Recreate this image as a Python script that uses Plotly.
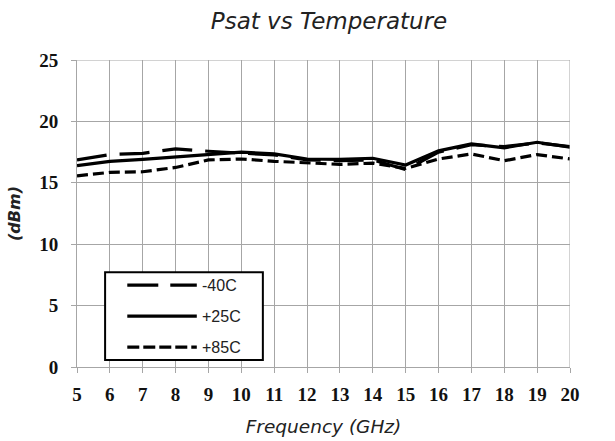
import plotly.graph_objects as go

freq = [5, 6, 7, 8, 9, 10, 11, 12, 13, 14, 15, 16, 17, 18, 19, 20]
m40 = [16.86, 17.3, 17.4, 17.76, 17.57, 17.4, 17.27, 16.86, 16.8, 16.86, 16.07, 17.5, 18.1, 17.95, 18.25, 17.95]
p25 = [16.4, 16.75, 16.9, 17.08, 17.27, 17.5, 17.35, 16.94, 16.9, 17.0, 16.45, 17.6, 18.17, 17.85, 18.3, 17.9]
p85 = [15.57, 15.85, 15.9, 16.25, 16.86, 16.94, 16.75, 16.6, 16.5, 16.6, 16.17, 16.94, 17.35, 16.8, 17.3, 16.94]
names = ["-40C", "+25C", "+85C"]
dashes = ["30px,13px", "solid", "11px,5px"]
legend_dashes = ["31px,12px", "solid", "12px,4px"]
series = [m40, p25, p85]

fig = go.Figure()
for n, d, s in zip(names, dashes, series):
    fig.add_trace(go.Scatter(x=freq, y=s, name=n, mode="lines", showlegend=False,
                             line=dict(color="black", width=3.2, dash=d)))

sans = "DejaVu Sans, Lato, sans-serif"
grid = "#a6a6a6"
fig.update_layout(
    width=615, height=441,
    margin=dict(l=77, r=45, t=60, b=74),
    paper_bgcolor="white", plot_bgcolor="white",
    showlegend=False,
    title=dict(text="Psat vs Temperature", x=0.535, xanchor="center", y=0.953, yanchor="middle",
               font=dict(family=sans, size=23, color="#222222", style="italic")),
    xaxis=dict(range=[5, 20], dtick=1, tick0=5, showgrid=True, gridcolor=grid, gridwidth=1,
               showline=True, linecolor=grid, linewidth=1, automargin=False,
               ticks="outside", ticklen=5, tickcolor=grid, ticklabelstandoff=5,
               tickfont=dict(family="Liberation Serif, serif", size=19, color="#111111", weight="bold"),
               title=dict(text="Frequency (GHz)", standoff=16,
                          font=dict(family=sans, size=18.5, color="#222222", style="italic")),
               zeroline=False),
    yaxis=dict(range=[0, 25], dtick=5, showgrid=True, gridcolor=grid, gridwidth=1,
               showline=True, linecolor=grid, linewidth=1, automargin=False,
               ticks="outside", ticklen=5, tickcolor=grid, ticklabelstandoff=9,
               tickfont=dict(family="Liberation Serif, serif", size=19, color="#111111", weight="bold"),
               title=dict(text="(dBm)", standoff=14,
                          font=dict(family=sans, size=16, color="#222222", style="italic", weight="bold")),
               zeroline=False),
)
fig.add_shape(type="line", xref="x", yref="paper", x0=20, x1=20, y0=0, y1=1,
              line=dict(color=grid, width=1))
fig.add_shape(type="line", xref="paper", yref="y", x0=0, x1=1, y0=25, y1=25,
              line=dict(color=grid, width=1))

# custom legend box (plot-area paper coordinates)
fig.add_shape(type="rect", xref="paper", yref="paper", x0=0.057, x1=0.377, y0=0.023, y1=0.309,
              line=dict(color="black", width=2), fillcolor="white", layer="above")
rows = [0.267, 0.166, 0.065]
for n, d, yy in zip(names, legend_dashes, rows):
    fig.add_shape(type="line", xref="paper", yref="paper", x0=0.102, x1=0.243, y0=yy, y1=yy,
                  line=dict(color="black", width=3.2, dash=d), layer="above")
    fig.add_annotation(text=n, xref="paper", yref="paper", x=0.249, y=yy, xanchor="left",
                       yanchor="middle", showarrow=False,
                       font=dict(family="Liberation Sans, Arial, sans-serif", size=16, color="#222222"))

fig.write_html("out.html")
